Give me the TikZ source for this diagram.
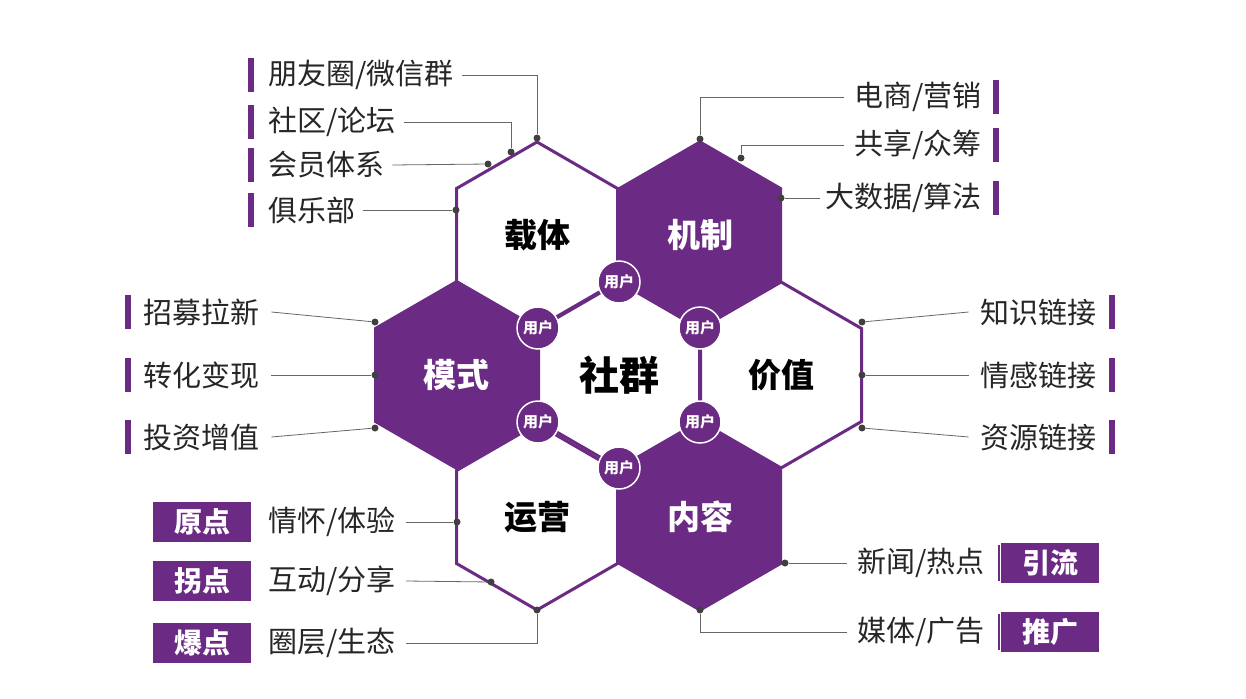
\documentclass[tikz,border=0pt]{standalone}
\usepackage{fontspec}
\setmainfont{Noto Sans CJK SC}
\definecolor{pp}{HTML}{6B2A83}
\begin{document}
\begin{tikzpicture}[x=1pt,y=-1pt,
  txt/.style={font=\fontsize{29}{32}\selectfont,text=black!85,inner sep=0pt},
  hexlab/.style={font=\fontsize{33}{36}\selectfont\bfseries,inner sep=0pt},
  user/.style={circle,fill=pp,draw=white,line width=1.5pt,minimum size=42pt,inner sep=0pt,text=white,font=\fontsize{15}{16}\selectfont\bfseries},
  bar/.style={fill=pp,minimum width=6pt,minimum height=34pt,inner sep=0pt},
  tag/.style={fill=pp,text=white,minimum width=98pt,minimum height=40pt,inner sep=0pt,font=\fontsize{28}{30}\selectfont\bfseries},
  conn/.style={draw=black!60,line width=0.8pt},
  dot/.style={circle,fill=black!75,inner sep=0pt,minimum size=7pt}]
\useasboundingbox (0,0) rectangle (1246,698);
\fill[white] (0,0) rectangle (1246,698);
\newcommand{\hexpath}[2]{(#1,#2-93)--(#1+80.5,#2-46.5)--(#1+80.5,#2+46.5)--(#1,#2+93)--(#1-80.5,#2+46.5)--(#1-80.5,#2-46.5)--cycle}
% hexes
\filldraw[fill=white,draw=pp,line width=3pt] \hexpath{537}{235};
\filldraw[fill=pp,draw=pp,line width=3pt] \hexpath{700}{235};
\filldraw[fill=pp,draw=pp,line width=3pt] \hexpath{456}{375};
\filldraw[fill=white,draw=pp,line width=3pt] \hexpath{781}{375};
\filldraw[fill=white,draw=pp,line width=3pt] \hexpath{537}{517};
\filldraw[fill=pp,draw=pp,line width=3pt] \hexpath{700}{517};
\filldraw[fill=white,draw=pp,line width=3pt] \hexpath{619}{375};
\node[hexlab,text=black] (zt) at (537,235) {载体};
\node[hexlab,text=white] (jz) at (700,235) {机制};
\node[hexlab,text=white] (ms) at (456,375) {模式};
\node[hexlab,text=black] (jv) at (781,375) {价值};
\node[hexlab,text=black] (yy) at (537,517) {运营};
\node[hexlab,text=white] (nr) at (700,517) {内容};
\node[font=\fontsize{40}{44}\selectfont\bfseries,inner sep=0pt] (sq) at (619,375) {社群};
\node[user] (u1) at (619,282) {用户};
\node[user] (u2) at (700,328) {用户};
\node[user] (u3) at (700,422) {用户};
\node[user] (u4) at (619,468) {用户};
\node[user] (u5) at (538,422) {用户};
\node[user] (u6) at (538,328) {用户};
% top-left
\node[bar] (b1) at (251,75) {}; \node[txt,anchor=west] (t1) at (268,75) {朋友圈/微信群};
\node[bar] (b2) at (251,122) {}; \node[txt,anchor=west] (t2) at (268,122) {社区/论坛};
\node[bar] (b3) at (251,165) {}; \node[txt,anchor=west] (t3) at (268,165) {会员体系};
\node[bar] (b4) at (251,210) {}; \node[txt,anchor=west] (t4) at (268,210) {俱乐部};
\node[dot] (d1) at (537,138) {}; \node[dot] (d2) at (511,152) {};
\node[dot] (d3) at (488,164) {}; \node[dot] (d4) at (456,210) {};
\draw[conn] (t1.east)++(8,0) -| (d1);
\draw[conn] (t2.east)++(8,0) -| (d2);
\draw[conn] (t3.east)++(8,0) -- (d3);
\draw[conn] (t4.east)++(8,0) -- (d4);
% top-right
\node[txt,anchor=east] (r1) at (982,97) {电商/营销}; \node[bar] (rb1) at (996,97) {};
\node[txt,anchor=east] (r2) at (982,145) {共享/众筹}; \node[bar] (rb2) at (996,145) {};
\node[txt,anchor=east] (r3) at (982,198) {大数据/算法}; \node[bar] (rb3) at (996,198) {};
\node[dot] (e1) at (700,139) {}; \node[dot] (e2) at (741,158) {}; \node[dot] (e3) at (781,198) {};
\draw[conn] (r1.west)++(-10,0) -| (e1);
\draw[conn] (r2.west)++(-10,0) -| (e2);
\draw[conn] (r3.west)++(-5,0) -- (e3);
% left middle
\node[bar] (lb1) at (128,312) {}; \node[txt,anchor=west] (l1) at (143,312) {招募拉新};
\node[bar] (lb2) at (128,375) {}; \node[txt,anchor=west] (l2) at (143,375) {转化变现};
\node[bar] (lb3) at (128,437) {}; \node[txt,anchor=west] (l3) at (143,437) {投资增值};
\node[dot] (f1) at (375,322) {}; \node[dot] (f2) at (375,375) {}; \node[dot] (f3) at (375,428) {};
\draw[conn] (l1.east)++(12,0) -- (f1);
\draw[conn] (l2.east)++(12,0) -- (f2);
\draw[conn] (l3.east)++(12,0) -- (f3);
% right middle
\node[txt,anchor=east] (m1) at (1097,312) {知识链接}; \node[bar] (mb1) at (1112,312) {};
\node[txt,anchor=east] (m2) at (1097,375) {情感链接}; \node[bar] (mb2) at (1112,375) {};
\node[txt,anchor=east] (m3) at (1097,437) {资源链接}; \node[bar] (mb3) at (1112,437) {};
\node[dot] (g1) at (862,322) {}; \node[dot] (g2) at (862,375) {}; \node[dot] (g3) at (862,428) {};
\draw[conn] (m1.west)++(-12,0) -- (g1);
\draw[conn] (m2.west)++(-12,0) -- (g2);
\draw[conn] (m3.west)++(-12,0) -- (g3);
% bottom-left
\node[tag] (p1) at (202,522) {原点}; \node[txt,anchor=west] (q1) at (268,522) {情怀/体验};
\node[tag] (p2) at (202,581) {拐点}; \node[txt,anchor=west] (q2) at (268,581) {互动/分享};
\node[tag] (p3) at (202,643) {爆点}; \node[txt,anchor=west] (q3) at (268,643) {圈层/生态};
\node[dot] (h1) at (457,522) {}; \node[dot] (h2) at (491,582) {}; \node[dot] (h3) at (537,610) {};
\draw[conn] (q1.east)++(10,0) -- (h1);
\draw[conn] (q2.east)++(10,0) -- (h2);
\draw[conn] (q3.east)++(10,0) -| (h3);
% bottom-right
\node[txt,anchor=east] (s1) at (985,563) {新闻/热点}; \node[tag] (k1) at (1050,563) {引流};
\node[txt,anchor=east] (s2) at (985,632) {媒体/广告}; \node[tag] (k2) at (1050,632) {推广};
\draw[pp,line width=2pt] (999,545) -- (999,581);
\draw[pp,line width=2pt] (999,614) -- (999,650);
\node[dot] (i1) at (785,563) {}; \node[dot] (i2) at (700,610) {};
\draw[conn] (s1.west)++(-10,0) -- (i1);
\draw[conn] (s2.west)++(-10,0) -| (i2);
\end{tikzpicture}
\end{document}
